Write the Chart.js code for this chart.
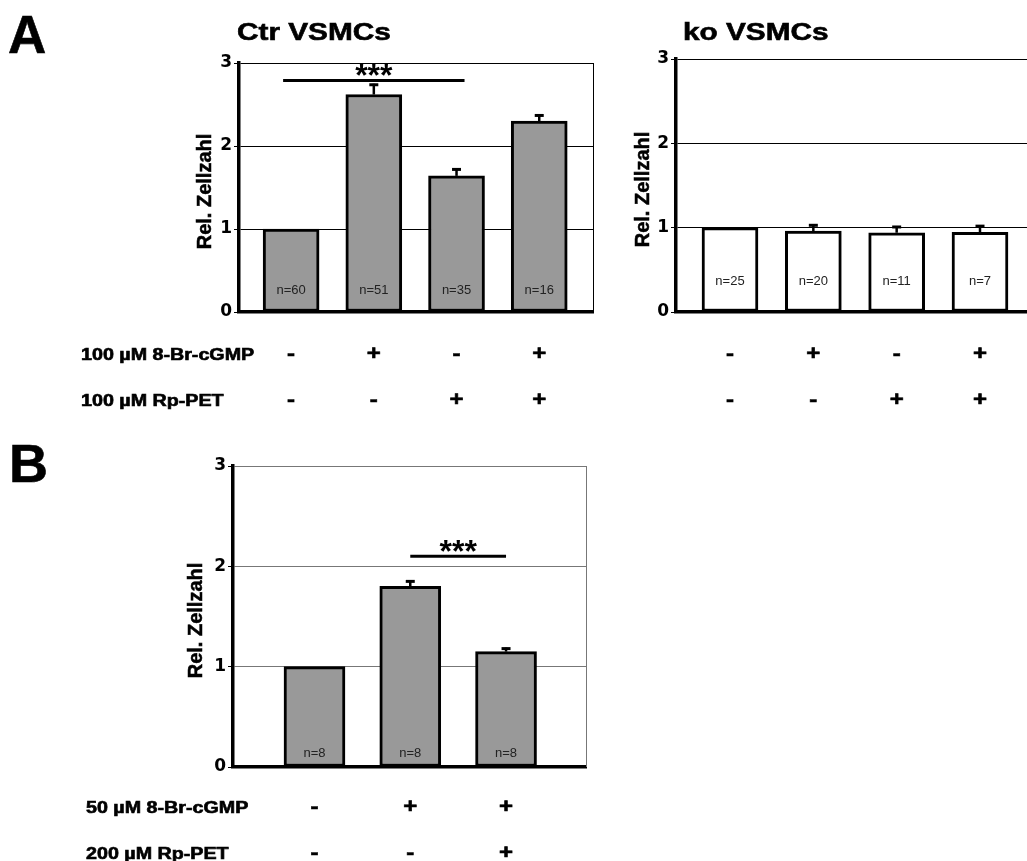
<!DOCTYPE html>
<html>
<head>
<meta charset="utf-8">
<title>Rel. Zellzahl</title>
<script src="https://cdn.jsdelivr.net/npm/chart.js@4.4.1/dist/chart.umd.min.js"></script>
<style>
  html, body { margin: 0; padding: 0; background: #fff; overflow: hidden; }
  canvas { position: absolute; left: 0; top: 0; }
</style>
</head>
<body>
<canvas id="ctrChart" width="1040" height="861"></canvas>
<canvas id="koChart" width="1040" height="861"></canvas>
<canvas id="bChart" width="1040" height="861"></canvas>
<script>
const yTickValues = [0, 1, 2, 3];

// A - Ctr VSMCs
const ctrValues = [1.0, 2.62, 1.64, 2.3];
const ctrSem = [0, 0.13, 0.09, 0.08];
const ctrN = ['n=60', 'n=51', 'n=35', 'n=16'];
const ctrCgmp = ['-', '+', '-', '+'];
const ctrRp = ['-', '-', '+', '+'];
const ctrSig = [0, 2];
const ctrSigLevel = 2.79;

// A - ko VSMCs
const koValues = [1.0, 0.96, 0.94, 0.945];
const koSem = [0, 0.08, 0.08, 0.085];
const koN = ['n=25', 'n=20', 'n=11', 'n=7'];
const koCgmp = ['-', '+', '-', '+'];
const koRp = ['-', '-', '+', '+'];

// B
const bValues = [1.0, 1.8, 1.15];
const bSem = [0, 0.06, 0.04];
const bN = ['n=8', 'n=8', 'n=8'];
const bCgmp = ['-', '+', '+'];
const bRp = ['-', '-', '+'];
const bSig = [1, 2];
const bSigLevel = 2.1;

const aRowLabels = ['100 µM 8-Br-cGMP', '100 µM Rp-PET'];
const bRowLabels = ['50 µM 8-Br-cGMP', '200 µM Rp-PET'];

const SANS = '"Liberation Sans", Arial, sans-serif';

// bold text, a bit wider and heavier like the scanned figure
function wideText(ctx, text, x, y, size, sx, align) {
  ctx.save();
  ctx.font = 'bold ' + size + 'px ' + SANS;
  ctx.textAlign = align;
  ctx.textBaseline = 'alphabetic';
  ctx.translate(x, y);
  ctx.scale(sx, 1);
  ctx.fillText(text, 0, 0);
  ctx.lineWidth = 0.6;
  ctx.strokeStyle = '#000';
  ctx.strokeText(text, 0, 0);
  ctx.restore();
}

function panelPlugin(o) {
  return {
    id: 'panel',
    afterDatasetsDraw(chart) {
      const ctx = chart.ctx;
      const xs = chart.scales.x;
      const ys = chart.scales.y;
      const area = chart.chartArea;
      ctx.save();
      ctx.fillStyle = '#000';

      // thin frame on the right
      ctx.strokeStyle = o.gridColor;
      ctx.lineWidth = 1;
      ctx.beginPath();
      ctx.moveTo(Math.round(area.right) + 0.5, area.top);
      ctx.lineTo(Math.round(area.right) + 0.5, area.bottom);
      ctx.stroke();

      // error bars, upper half only
      ctx.strokeStyle = '#000';
      o.values.forEach((v, i) => {
        if (!o.sem[i]) return;
        const cx = xs.getPixelForValue(i);
        const top = ys.getPixelForValue(v + o.sem[i]);
        ctx.lineWidth = 2.5;
        ctx.beginPath();
        ctx.moveTo(cx, ys.getPixelForValue(v));
        ctx.lineTo(cx, top);
        ctx.stroke();
        ctx.lineWidth = 3;
        ctx.beginPath();
        ctx.moveTo(cx - 4.5, top + 1);
        ctx.lineTo(cx + 4.5, top + 1);
        ctx.stroke();
      });

      // n= inside the bars
      ctx.fillStyle = '#222';
      ctx.font = '13px ' + SANS;
      ctx.textAlign = 'center';
      ctx.textBaseline = 'middle';
      o.counts.forEach((t, i) => {
        ctx.fillText(t, xs.getPixelForValue(i), ys.getPixelForValue(o.countLevel));
      });

      // significance bar
      ctx.fillStyle = '#000';
      if (o.sig) {
        const x1 = xs.getPixelForValue(o.sig[0]) - o.sigPad;
        const x2 = xs.getPixelForValue(o.sig[1]) + o.sigPad;
        const ly = ys.getPixelForValue(o.sigLevel);
        ctx.lineWidth = 3;
        ctx.beginPath();
        ctx.moveTo(x1, ly);
        ctx.lineTo(x2, ly);
        ctx.stroke();
        ctx.font = 'bold 32px ' + SANS;
        ctx.textBaseline = 'alphabetic';
        const m = ctx.measureText('***');
        const base = ly - 4.5 - m.actualBoundingBoxDescent;
        ctx.fillText('***', (x1 + x2) / 2, base);
      }

      // y axis title
      ctx.save();
      ctx.translate(area.left - o.yTitleGap, (area.top + area.bottom) / 2 + 4);
      ctx.rotate(-Math.PI / 2);
      ctx.font = 'bold 20px ' + SANS;
      ctx.textAlign = 'center';
      ctx.textBaseline = 'middle';
      ctx.fillText('Rel. Zellzahl', 0, 0);
      ctx.lineWidth = 0.5;
      ctx.strokeText('Rel. Zellzahl', 0, 0);
      ctx.restore();

      // treatment rows
      o.rows.forEach((row, r) => {
        row.forEach((s, i) => {
          wideText(ctx, s, xs.getPixelForValue(i), o.rowY[r], 20, 1.2, 'center');
        });
        if (o.rowLabels) {
          wideText(ctx, o.rowLabels[r], o.rowLabelX, o.rowY[r], 16, 1.23, 'left');
        }
      });

      if (o.title) wideText(ctx, o.title, o.titleX, o.titleY, 24, 1.24, 'left');
      if (o.letter) wideText(ctx, o.letter, o.letterX, o.letterY, o.letterSize, 1, 'left');
      ctx.restore();
    },
  };
}

function makePanel(id, o) {
  return new Chart(document.getElementById(id), {
    type: 'bar',
    data: {
      datasets: [
        {
          data: o.values.map((v, i) => ({ x: i, y: v })),
          backgroundColor: o.fill,
          borderColor: '#000',
          borderWidth: 3,
          borderSkipped: false,
          barThickness: o.barWidth,
        },
      ],
    },
    plugins: [panelPlugin(o)],
    options: {
      responsive: false,
      animation: false,
      events: [],
      layout: {
        padding: { left: 0, top: o.area.top, right: 1040 - o.area.right, bottom: 0 },
      },
      plugins: { legend: { display: false }, tooltip: { enabled: false } },
      scales: {
        x: {
          type: 'linear',
          offset: false,
          min: o.xMin,
          max: o.xMax,
          ticks: { display: false },
          grid: { display: false },
          border: { color: '#000', width: 3.5 },
          afterFit: (s) => {
            s.height = 861 - o.area.bottom;
          },
        },
        y: {
          min: 0,
          max: 3,
          afterBuildTicks: (s) => {
            s.ticks = yTickValues.map((v) => ({ value: v }));
          },
          ticks: {
            color: '#000',
            padding: 2,
            font: { family: 'DejaVu Sans', weight: 'bold', size: 17 },
          },
          grid: { color: o.gridColor, tickColor: '#000', tickLength: 5, lineWidth: 1 },
          border: { color: '#000', width: 3.5 },
          afterFit: (s) => {
            s.width = o.area.left;
          },
        },
      },
    },
  });
}

makePanel('ctrChart', {
  values: ctrValues,
  sem: ctrSem,
  counts: ctrN,
  countLevel: 0.265,
  sig: ctrSig,
  sigLevel: ctrSigLevel,
  sigPad: 8,
  rows: [ctrCgmp, ctrRp],
  rowY: [359.5, 405.5],
  rowLabels: aRowLabels,
  rowLabelX: 81,
  title: 'Ctr VSMCs',
  titleX: 237,
  titleY: 39.5,
  letter: 'A',
  letterX: 8,
  letterY: 53,
  letterSize: 53,
  area: { left: 239, right: 593, top: 63, bottom: 312 },
  xMin: -0.63,
  xMax: 3.65,
  barWidth: 56,
  fill: '#999999',
  gridColor: '#000',
  yTitleGap: 34,
});

makePanel('koChart', {
  values: koValues,
  sem: koSem,
  counts: koN,
  countLevel: 0.36,
  rows: [koCgmp, koRp],
  rowY: [359.5, 405.5],
  title: 'ko VSMCs',
  titleX: 683,
  titleY: 40,
  area: { left: 676, right: 1034, top: 59, bottom: 312 },
  xMin: -0.648,
  xMax: 3.648,
  barWidth: 56,
  fill: '#ffffff',
  gridColor: '#000',
  yTitleGap: 33,
});

makePanel('bChart', {
  values: bValues,
  sem: bSem,
  counts: bN,
  countLevel: 0.137,
  sig: bSig,
  sigLevel: bSigLevel,
  sigPad: 0,
  rows: [bCgmp, bRp],
  rowY: [813, 859],
  rowLabels: bRowLabels,
  rowLabelX: 86,
  letter: 'B',
  letterX: 9,
  letterY: 482,
  letterSize: 54,
  area: { left: 233, right: 586, top: 466, bottom: 767 },
  xMin: -0.851,
  xMax: 2.835,
  barWidth: 61,
  fill: '#999999',
  gridColor: '#777',
  yTitleGap: 37,
});
</script>
</body>
</html>
